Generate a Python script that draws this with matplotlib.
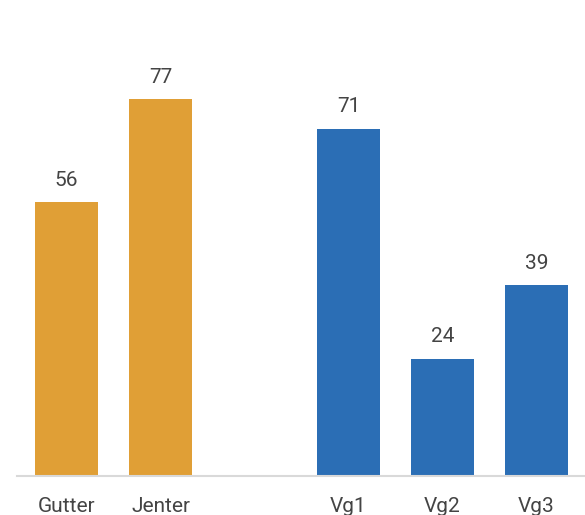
import matplotlib.pyplot as plt

categories = ['Gutter', 'Jenter', 'Vg1', 'Vg2', 'Vg3']
positions = [0, 1, 3, 4, 5]
values = [56, 77, 71, 24, 39]
colors = ['#E09F36', '#E09F36', '#2B6EB5', '#2B6EB5', '#2B6EB5']

plt.rcParams['font.family'] = ['Roboto', 'DejaVu Sans']

fig = plt.figure(figsize=(5.85, 5.15), dpi=100)
ax = fig.add_axes([0.029, 39 / 515, 0.971, 476 / 515])

bars = ax.bar(positions, values, width=0.67, color=colors)
for b, v in zip(bars, values):
    ax.annotate(str(v), (b.get_x() + b.get_width() / 2, v),
                xytext=(0, 9), textcoords='offset points',
                ha='center', va='bottom', fontsize=15, color='#444444')

ax.set_xlim(-0.527, 5.516)
ax.set_ylim(0, 97.3)
ax.set_xticks(positions)
ax.set_xticklabels(categories, fontsize=15, color='#444444')
ax.tick_params(axis='x', length=0, pad=15)
ax.set_yticks([])
for s in ['top', 'right', 'left']:
    ax.spines[s].set_visible(False)
ax.spines['bottom'].set_color('#D9D9D9')
ax.spines['bottom'].set_linewidth(1.5)

fig.savefig('out.png', dpi=100)
